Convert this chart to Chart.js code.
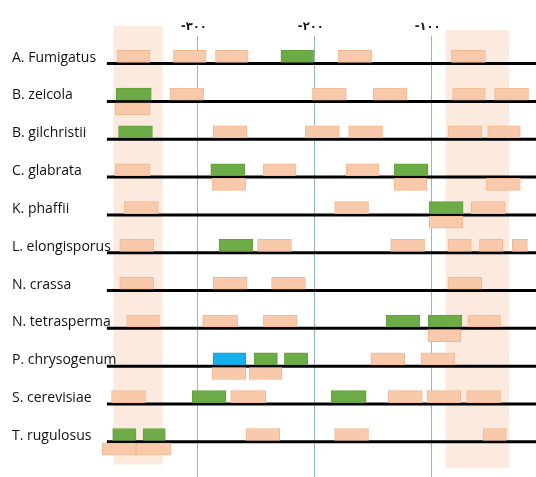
<!DOCTYPE html>
<html><head><meta charset="utf-8">
<script src="https://cdn.jsdelivr.net/npm/chart.js@4.4.0/dist/chart.umd.min.js"></script>
<style>html,body{margin:0;padding:0;background:#fff;}canvas{display:block;}</style>
</head><body>
<canvas id="c" width="536" height="477"></canvas>
<script>
// ---- data ----
const species = ['A. Fumigatus','B. zeicola','B. gilchristii','C. glabrata','K. phaffii',
  'L. elongisporus','N. crassa','N. tetrasperma','P. chrysogenum','S. cerevisiae','T. rugulosus'];
const tickValues = [-300, -200, -100];
const tickLabels = ['-۳۰۰', '-۲۰۰', '-۱۰۰'];
const xRange = [-469.5, -10.6];
const lineStart = -378;
// [row, start, end]
const orangeUp = [
  [0,-369,-341],[0,-321,-293],[0,-285,-257],[0,-180,-151],[0,-83,-54],
  [1,-324,-295],[1,-202,-173],[1,-150,-121],[1,-82,-54],[1,-46,-17],
  [2,-287,-258],[2,-208,-179],[2,-171,-142],[2,-86,-57],[2,-52,-24],
  [3,-371,-341],[3,-244,-216],[3,-173,-145],
  [4,-363,-334],[4,-183,-154],[4,-66,-37],
  [5,-367,-338],[5,-249,-220],[5,-135,-106],[5,-86,-66],[5,-59,-39],[5,-31,-18],
  [6,-367,-338],[6,-287,-258],[6,-237,-208],[6,-86,-57],
  [7,-361,-333],[7,-296,-266],[7,-244,-215],[7,-69,-41],
  [8,-152,-123],[8,-109,-80],
  [9,-374,-345],[9,-272,-242],[9,-137,-108],[9,-104,-75],[9,-70,-41],
  [10,-259,-230],[10,-183,-154],[10,-56,-36]
];
const orangeDown = [
  [1,-371,-341],
  [3,-288,-259],[3,-132,-104],[3,-53,-24],
  [4,-102,-73],
  [7,-103,-75],
  [8,-288,-259],[8,-256,-228],
  [10,-382,-353],[10,-353,-323]
];
const green = [
  [0,-229,-201],
  [1,-370,-340],
  [2,-368,-339],
  [3,-289,-260],[3,-132,-103],
  [4,-102,-73],
  [5,-282,-253],
  [7,-139,-110],[7,-103,-74],
  [8,-252,-232],[8,-226,-206],
  [9,-305,-276],[9,-186,-156],
  [10,-373,-353],[10,-347,-328]
];
const blue = [[8,-287,-259]];
// shaded regions: [xStart, xEnd, rowTop, rowBottom]
const bands = [[-372.3,-330.2,-1.0,10.6],[-87.9,-33.7,-0.89,10.7]];

// ---- chart ----
const yMin = -0.7298, yMax = 10.9307;
const shift = 0.193;
const toBars = (arr, s) => arr.map(([r, a, b]) => ({x: [a, b], y: r + s}));
const barDs = (label, arr, s, bg, bc) => ({
  type: 'bar', label, data: toBars(arr, s), indexAxis: 'y', grouped: false,
  categoryPercentage: 1, barPercentage: 1, maxBarThickness: 12,
  backgroundColor: bg, borderColor: bc, borderWidth: 1, borderSkipped: false, order: 1
});
const lineDs = species.map((s, i) => ({
  type: 'line', label: s, data: [{x: lineStart, y: i}, {x: xRange[1], y: i}],
  borderColor: '#000', borderWidth: 3, pointRadius: 0, order: 5, clip: false
}));

const bandPlugin = {
  id: 'bands',
  beforeDraw(chart) {
    const {ctx, scales: {x, y}} = chart;
    ctx.save();
    ctx.fillStyle = '#fceadf';
    bands.forEach(([a, b, t, d]) => {
      const x0 = x.getPixelForValue(a), x1 = x.getPixelForValue(b);
      const y0 = y.getPixelForValue(t), y1 = y.getPixelForValue(d);
      ctx.fillRect(x0, y0, x1 - x0, y1 - y0);
    });
    ctx.restore();
  }
};

new Chart(document.getElementById('c'), {
  type: 'bar',
  data: {
    datasets: [
      ...lineDs,
      barDs('orange up', orangeUp, -shift, '#f8caab', '#f1b891'),
      barDs('orange down', orangeDown, shift, '#f8caab', '#f1b891'),
      barDs('green', green, -shift, '#6cab45', '#62a03e'),
      barDs('blue', blue, -shift, '#16b0ec', '#12a0d8')
    ]
  },
  options: {
    responsive: false, animation: false, devicePixelRatio: 1,
    layout: {padding: 0},
    plugins: {legend: {display: false}, tooltip: {enabled: false}},
    scales: {
      x: {
        type: 'linear', position: 'top', min: xRange[0], max: xRange[1], offset: false,
        grid: {color: '#93b6cb', lineWidth: 1, drawTicks: false, offset: false},
        border: {display: false},
        afterBuildTicks: a => { a.ticks = tickValues.map(v => ({value: v})); },
        afterFit: a => { a.height = 36; a.paddingLeft = 0; a.paddingRight = 0; },
        ticks: {
          padding: 2, labelOffset: -4, autoSkip: false, maxRotation: 0, color: '#1a1a1a',
          font: {family: 'DejaVu Sans', size: 11.5, weight: 'bold'},
          callback: (v, i) => tickLabels[i]
        }
      },
      y: {
        type: 'linear', reverse: true, min: yMin, max: yMax, offset: false,
        grid: {display: false, offset: false}, border: {display: false},
        afterBuildTicks: a => { a.ticks = species.map((_, i) => ({value: i})); },
        afterFit: a => { a.width = 0; a.paddingTop = 0; a.paddingBottom = 0; },
        ticks: {
          mirror: true, padding: 12, labelOffset: -6, autoSkip: false, color: '#111',
          font: {family: 'Open Sans', size: 14},
          callback: (v, i) => species[i]
        }
      }
    }
  },
  plugins: [bandPlugin]
});
</script>
</body></html>
